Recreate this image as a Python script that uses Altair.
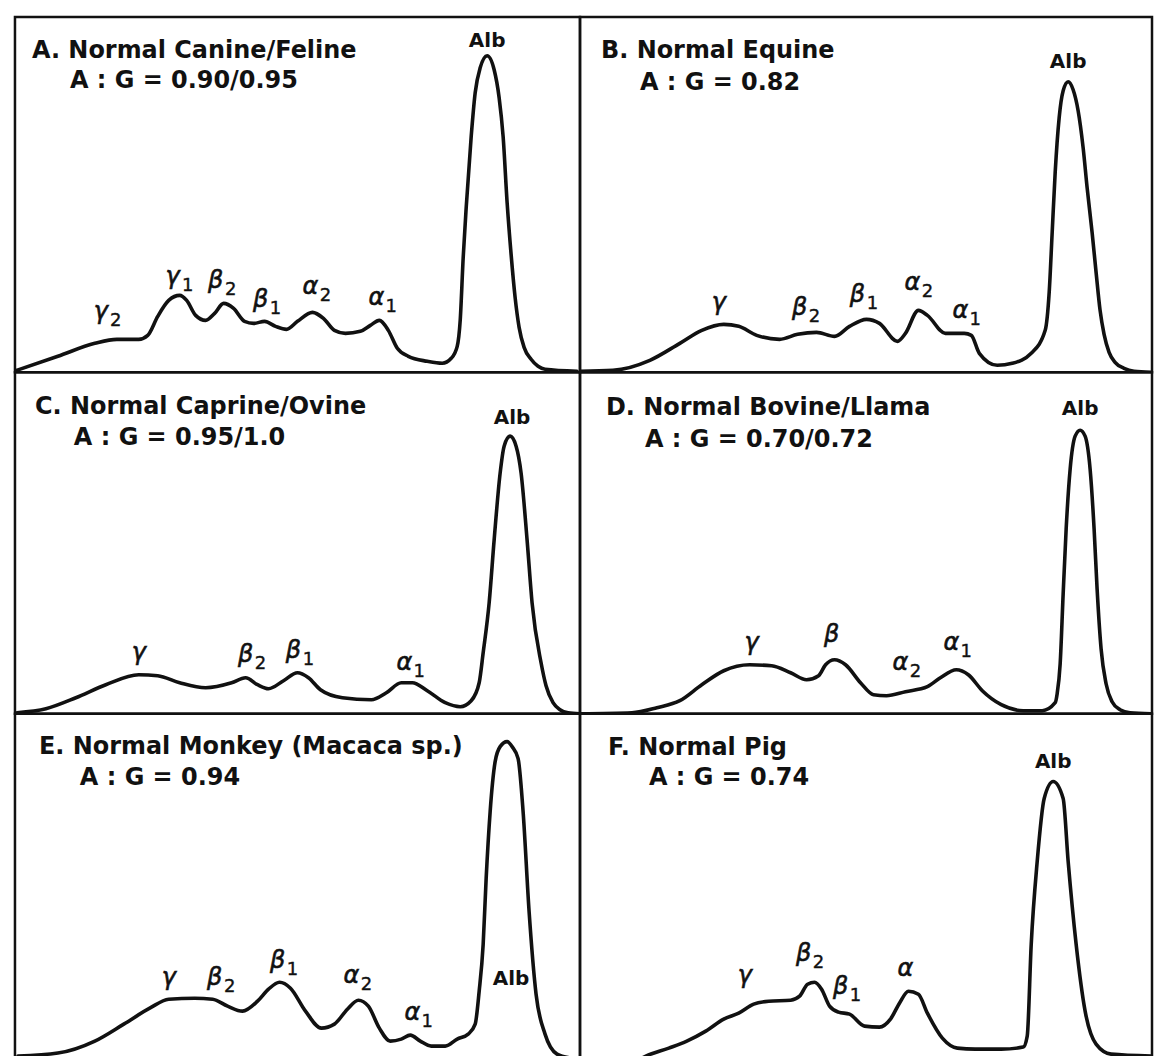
import altair as alt
import pandas as pd

FONT = "DejaVu Sans"

# ---- panel layout (pixels) ----
COL_W = [566, 573]
ROW_H = [356, 342, 346]

# ---- densitometer traces: (mobility, density) ----
A_curve = [(2,2),(43,16),(80,29),(102,33),(124,33),(133,37),(143,56),(154,72),(165,77),(172,72),
           (181,57),(191,52),(200,59),(209,69),(219,64),(230,51),(239,49),(250,51),(261,46),(272,43),
           (283,51),(298,60),(309,54),(320,42),(331,39),(346,41),(356,47),(365,52),(374,42),(383,24),
           (394,16),(413,11),(428,9),(437,14),(443,26),(446,52),(449,115),(452,165),(457,236),(461,280),
           (466,305),(473,317),(480,303),(485,275),(489,236),(493,170),(497,118),(501,75),(505,45),
           (510,25),(517,13),(524,6),(531,3),(563,1)]
B_curve = [(0,1),(33,2),(70,12),(100,29),(122,42),(144,48),(159,46),(177,37),(200,33),(218,38),
           (237,40),(255,36),(270,46),(287,53),(300,49),(318,31),(326,39),(339,62),(348,57),(366,39),
           (385,39),(392,37),(400,19),(418,7),(433,9),(452,19),(466,42),(470,80),(473,140),(476,200),
           (480,255),(484,282),(489,291),(494,283),(499,262),(504,225),(508,185),(513,140),(517,100),
           (521,62),(525,38),(530,20),(536,10),(545,4),(555,1),(572,0)]
C_curve = [(2,1),(31,5),(61,16),(91,29),(124,39),(143,38),(165,31),(191,26),(217,31),(231,36),
           (243,29),(254,25),(269,33),(283,41),(294,36),(306,24),(328,16),(357,14),(372,21),(387,31),
           (398,31),(413,23),(431,11),(446,7),(457,13),(465,31),(469,61),(475,111),(480,174),(486,241),
           (490,268),(496,278),(502,268),(507,241),(513,174),(518,111),(527,51),(532,28),(539,11),
           (546,4),(554,1),(566,0)]
D_curve = [(0,0),(52,1),(77,6),(100,13),(122,29),(144,43),(170,49),(192,48),(211,41),(227,34),
           (239,38),(246,49),(255,54),(266,49),(281,31),(294,19),(307,18),(326,22),(348,27),(361,36),
           (377,44),(389,39),(403,23),(422,9),(444,3),(463,3),(476,11),(478,20),(481,50),(484,120),
           (487,185),(491,245),(496,278),(501,284),(506,278),(511,245),(515,185),(518,125),(522,65),
           (527,30),(533,12),(541,4),(551,1),(572,0)]
E_curve = [(3,3),(43,6),(80,18),(109,35),(135,51),(154,60),(180,61),(198,60),(213,53),(228,48),
           (243,58),(254,70),(265,77),(276,71),(291,48),(307,31),(320,35),(333,50),(344,59),(354,53),
           (365,31),(376,18),(387,20),(396,24),(406,18),(417,13),(431,13),(443,20),(454,25),(461,35),
           (465,68),(469,115),(472,181),(476,248),(481,298),(486,313),(493,318),(498,313),(504,301),
           (509,248),(515,148),(522,65),(531,25),(543,5),(557,1),(566,0)]
F_curve = [(60,0),(66,3),(89,11),(107,18),(126,28),(144,40),(159,46),(174,55),(189,58),(211,59),
           (220,63),(228,75),(235,77),(242,70),(250,53),(259,47),(270,45),(285,33),(300,32),(311,40),
           (320,56),(329,68),(339,65),(348,46),(363,21),(378,11),(396,10),(422,10),(444,12),(448,23),
           (452,115),(458,198),(465,261),(474,278),(484,261),(489,198),(497,115),(506,48),(517,15),
           (532,5),(572,3)]

# ---- fraction labels: greek letter, subscript, position ----
A_greek = ["γ", "γ", "β", "β", "α", "α"]
A_sub = ["2", "1", "2", "1", "2", "1"]
A_lx = [86, 158, 201, 246, 296, 362]
A_ly = [60, 95, 91, 72, 85, 74]

B_greek = ["γ", "β", "β", "α", "α"]
B_sub = ["", "2", "1", "2", "1"]
B_lx = [139, 220, 278, 333, 381]
B_ly = [69, 64, 77, 89, 61]

C_greek = ["γ", "β", "β", "α"]
C_sub = ["", "2", "1", "1"]
C_lx = [124, 231, 279, 390]
C_ly = [61, 59, 63, 51]

D_greek = ["γ", "β", "α", "α"]
D_sub = ["", "", "2", "1"]
D_lx = [172, 252, 321, 372]
D_ly = [71, 79, 51, 71]

E_greek = ["γ", "β", "β", "α", "α"]
E_sub = ["", "2", "1", "2", "1"]
E_lx = [154, 200, 263, 337, 398]
E_ly = [81, 81, 98, 83, 46]

F_greek = ["γ", "β", "β", "α"]
F_sub = ["", "2", "1", ""]
F_lx = [165, 224, 261, 326]
F_ly = [83, 105, 72, 90]

# albumin label positions
ALB_X = [473, 489, 498, 501, 497, 474]
ALB_Y = [332, 311, 296, 305, 80, 298]

TITLES = ["A. Normal Canine/Feline", "B. Normal Equine", "C. Normal Caprine/Ovine",
          "D. Normal Bovine/Llama", "E. Normal Monkey (Macaca sp.)", "F. Normal Pig"]
RATIOS = ["A : G = 0.90/0.95", "A : G = 0.82", "A : G = 0.95/1.0",
          "A : G = 0.70/0.72", "A : G = 0.94", "A : G = 0.74"]
TITLE_POS = [(17, 41), (21, 41), (20, 42), (26, 43), (24, 40), (28, 41)]
RATIO_POS = [(55, 71), (60, 73), (59, 73), (65, 75), (65, 71), (69, 71)]

CURVES = [A_curve, B_curve, C_curve, D_curve, E_curve, F_curve]
LABELS = [(A_greek, A_sub, A_lx, A_ly), (B_greek, B_sub, B_lx, B_ly),
          (C_greek, C_sub, C_lx, C_ly), (D_greek, D_sub, D_lx, D_ly),
          (E_greek, E_sub, E_lx, E_ly), (F_greek, F_sub, F_lx, F_ly)]

INK = "#111111"


def make_panel(i, w, h):
    xs = alt.Scale(domain=[0, w], nice=False, zero=False)
    ys = alt.Scale(domain=[0, h], nice=False, zero=False)
    X = alt.X("x:Q", scale=xs, axis=None)
    Y = alt.Y("y:Q", scale=ys, axis=None)

    curve = pd.DataFrame(CURVES[i], columns=["x", "y"])
    line = alt.Chart(curve).mark_line(
        color=INK, strokeWidth=3.6, interpolate="monotone",
        strokeJoin="round", strokeCap="round", clip=True
    ).encode(x=X, y=Y)

    g, s, lx, ly = LABELS[i]
    labs = pd.DataFrame({"x": lx, "y": ly, "g": g, "s": s})
    greek = alt.Chart(labs).mark_text(
        font=FONT, fontSize=24, fontStyle="italic", align="center",
        baseline="middle", color=INK, stroke=INK, strokeWidth=0.6
    ).encode(x=X, y=Y, text="g:N")
    subs = alt.Chart(labs).mark_text(
        font=FONT, fontSize=18, align="center", baseline="middle",
        dx=15, dy=9, color=INK, stroke=INK, strokeWidth=0.4
    ).encode(x=X, y=Y, text="s:N")

    alb = alt.Chart(pd.DataFrame({"x": [ALB_X[i]], "y": [ALB_Y[i]], "t": ["Alb"]})).mark_text(
        font=FONT, fontSize=20, fontWeight="bold", align="center",
        baseline="middle", color=INK
    ).encode(x=X, y=Y, text="t:N")

    tx, ty = TITLE_POS[i]
    rx, ry = RATIO_POS[i]
    title = alt.Chart(pd.DataFrame({"t": [TITLES[i]]})).mark_text(
        font=FONT, fontSize=24, fontWeight="bold", align="left",
        baseline="alphabetic", color=INK
    ).encode(x=alt.value(tx), y=alt.value(ty), text="t:N")
    ratio = alt.Chart(pd.DataFrame({"t": [RATIOS[i]]})).mark_text(
        font=FONT, fontSize=24, fontWeight="bold", align="left",
        baseline="alphabetic", color=INK
    ).encode(x=alt.value(rx), y=alt.value(ry), text="t:N")

    return alt.layer(line, greek, subs, alb, title, ratio).properties(width=w, height=h)


panels = [make_panel(r * 2 + c, COL_W[c], ROW_H[r]) for r in range(3) for c in range(2)]

chart = alt.concat(*panels, columns=2, spacing=0, bounds="flush", align="each").properties(
    padding={"left": 13, "top": 14, "right": 0, "bottom": 0},
    background="white",
).configure_view(stroke=INK, strokeWidth=2.5)

chart.save("out.html", embed_options={"renderer": "svg", "actions": False})
